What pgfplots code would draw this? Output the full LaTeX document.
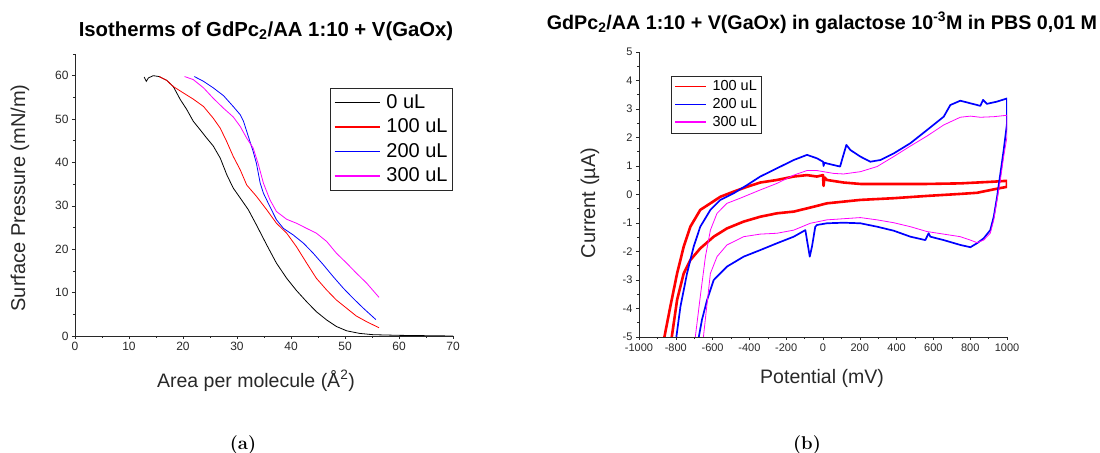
\documentclass[border=0pt]{standalone}
\usepackage{pgfplots}
\pgfplotsset{compat=1.18}
\usepackage{fontspec}
\newfontfamily\arial{Liberation Sans}
\definecolor{axgray}{RGB}{40,40,40}
\definecolor{mag}{RGB}{255,0,255}
\definecolor{myred}{RGB}{255,0,0}
\definecolor{myblue}{RGB}{0,0,255}
\pgfplotsset{
  myaxis/.style={
    scale only axis,
    axis x line*=bottom, axis y line*=left,
    axis line style={axgray, line width=0.8bp},
    tick align=outside,
    major tick length=3bp, minor tick length=2bp,
    every tick/.style={axgray, line width=0.6bp},
    clip=true,
  },
  limgA/.style={legend image code/.code={\draw[draw=#1, line width=1.2bp] (0bp,0.3bp) -- (45bp,0.3bp); \path (50bp,0bp);}},
  limgB/.style={legend image code/.code={\draw[draw=#1, line width=1.2bp] (0bp,0.3bp) -- (31bp,0.3bp); \path (35bp,0bp);}},
}
\begin{document}
\begin{tikzpicture}
\path[use as bounding box] (0bp,0bp) rectangle (1100bp,453bp);
% ---------------- (a) ----------------
\begin{axis}[myaxis,
  at={(75bp,117bp)}, anchor=south west,
  width=378bp, height=282bp,
  xmin=0, xmax=70, ymin=0, ymax=65,
  xtick={0,10,...,70}, xticklabels={0,10,20,30,40,50,60,70},
  ytick={0,10,...,60}, yticklabels={0,10,20,30,40,50,60},
  minor xtick={5,15,...,65}, minor ytick={5,15,...,65},
  ticklabel style={font=\arial\fontsize{12bp}{14bp}\selectfont, text=axgray},
  legend style={at={(1,0.879)}, anchor=north east, draw=axgray, line width=0.8bp,
    font=\arial\fontsize{20bp}{24bp}\selectfont,
    inner xsep=3.5bp, inner ysep=3bp,
    nodes={inner sep=1.5bp, text height=15bp, text depth=4.5bp}, row sep=2bp},
  legend cell align=left,
]
\addplot[black, line width=0.8bp, limgA=black] coordinates {
(12.8,59.7) (13.2,58.7) (13.6,59.5) (14.5,60.0) (15.6,59.8) (17.0,58.9) (18.2,57.5) (19.5,54.5) (20.7,52.2) (21.9,49.5) (23.2,47.5) (24.4,45.6) (25.6,43.8) (26.9,41.0) (28.1,37.2) (29.3,34.1) (30.6,31.8) (32.1,29.1) (33.6,25.6) (35.5,21.0) (37.3,16.8) (39.2,13.3) (41.0,10.5) (42.9,7.9) (44.7,5.6) (46.6,3.7) (48.4,2.2) (50.3,1.2) (52.7,0.6) (55.2,0.3) (60.1,0.15) (70,0.0)};
\addlegendentry{0 uL}
\addplot[myred, line width=0.8bp, limgA=myred] coordinates {
(15.6,59.8) (17.0,58.9) (18.2,57.5) (20.1,56.0) (21.9,54.6) (23.8,52.9) (25.6,50.2) (26.9,47.9) (28.1,44.8) (29.3,41.4) (30.6,38.3) (31.8,34.8) (33.6,32.2) (35.5,29.1) (37.3,26.0) (39.2,23.7) (41.0,20.6) (42.9,16.8) (44.7,13.3) (46.6,10.6) (48.4,8.3) (50.3,6.4) (52.1,4.6) (54.0,3.3) (56.3,1.9)};
\addlegendentry{100 uL}
\addplot[myblue, line width=0.8bp, limgA=myblue] coordinates {
(22.1,59.8) (23.8,58.7) (25.6,57.2) (27.5,55.4) (29.3,52.9) (30.6,51.0) (31.2,49.5) (32.1,46.0) (33.0,42.5) (33.6,39.8) (34.3,35.2) (34.9,32.9) (36.1,29.8) (37.3,26.8) (38.6,24.8) (40.4,23.3) (42.3,21.4) (44.1,19.1) (46.0,16.4) (47.8,13.7) (49.7,11.0) (51.5,8.7) (53.4,6.4) (55.7,3.8)};
\addlegendentry{200 uL}
\addplot[mag, line width=0.8bp, limgA=mag] coordinates {
(20.3,59.8) (21.9,59.1) (23.8,57.2) (25.6,54.8) (27.5,52.5) (29.3,50.5) (30.6,48.3) (31.8,45.6) (33.0,43.3) (33.9,39.8) (34.9,35.2) (36.1,31.4) (37.3,28.7) (39.2,26.9) (41.0,26.0) (42.9,24.8) (44.7,23.7) (46.6,21.8) (48.4,19.1) (50.3,16.8) (52.1,14.5) (54.0,12.2) (56.3,8.9)};
\addlegendentry{300 uL}
\end{axis}
% ---------------- (b) ----------------
\begin{axis}[myaxis,
  at={(639bp,116bp)}, anchor=south west,
  width=368bp, height=285bp,
  xmin=-1000, xmax=1000, ymin=-5, ymax=5,
  xtick={-1000,-800,...,1000}, xticklabels={-1000,-800,-600,-400,-200,0,200,400,600,800,1000},
  ytick={-5,-4,...,5}, yticklabels={-5,-4,-3,-2,-1,0,1,2,3,4,5},
  minor xtick={-900,-700,...,900}, minor ytick={-4.5,-3.5,...,4.5},
  ticklabel style={font=\arial\fontsize{11bp}{13bp}\selectfont, text=axgray},
  legend style={at={(0.087,0.917)}, anchor=north west, draw=axgray, line width=0.8bp,
    font=\arial\fontsize{14.5bp}{17bp}\selectfont,
    inner xsep=3bp, inner ysep=2.5bp,
    nodes={inner sep=1.2bp, text height=10.5bp, text depth=3.2bp}, row sep=1.8bp},
  legend cell align=left,
]
\addplot[myred, line width=2.6bp, line join=round, limgB=myred] coordinates {
(-862,-5) (-830,-3.94) (-793,-2.77) (-757,-1.83) (-721,-1.13) (-667,-0.54) (-612,-0.31) (-558,-0.08) (-486,0.10) (-413,0.27) (-341,0.42) (-250,0.51) (-159,0.63) (-87,0.68) (-33,0.63) (0,0.68) (3,0.3) (8,0.6) (21,0.51) (112,0.42) (203,0.37) (384,0.37) (565,0.37) (746,0.39) (928,0.45) (1000,0.48) (1000,0.27) (928,0.18) (837,0.06) (746,0.02) (565,-0.05) (384,-0.13) (203,-0.19) (21,-0.31) (-51,-0.43) (-159,-0.60) (-250,-0.66) (-341,-0.78) (-431,-0.95) (-522,-1.19) (-594,-1.48) (-667,-1.89) (-721,-2.30) (-757,-2.77) (-793,-3.70) (-822,-5)};
\addlegendentry{100 uL}
\addplot[myblue, line width=1.7bp, line join=round, limgB=myblue] coordinates {
(-797,-5) (-775,-3.94) (-739,-2.77) (-703,-1.83) (-667,-1.13) (-612,-0.54) (-558,-0.19) (-486,0.04) (-413,0.33) (-341,0.63) (-250,0.92) (-159,1.21) (-87,1.39) (-33,1.27) (0,1.15) (3,1.0) (8,1.12) (21,1.09) (93,0.98) (103,1.21) (127,1.74) (149,1.56) (203,1.33) (257,1.15) (312,1.21) (384,1.44) (475,1.80) (565,2.26) (656,2.73) (692,3.14) (746,3.29) (801,3.20) (855,3.11) (870,3.32) (891,3.18) (946,3.26) (1000,3.37) (1000,2.50) (982,1.56) (964,0.74) (946,-0.08) (928,-0.78) (909,-1.25) (873,-1.54) (837,-1.71) (801,-1.85) (746,-1.77) (656,-1.60) (583,-1.48) (574,-1.36) (556,-1.60) (475,-1.48) (384,-1.27) (294,-1.13) (203,-1.01) (112,-0.99) (21,-1.01) (-33,-1.07) (-42,-1.13) (-60,-1.83) (-72,-2.18) (-87,-1.60) (-96,-1.25) (-159,-1.48) (-250,-1.71) (-341,-1.95) (-431,-2.18) (-522,-2.53) (-594,-3.00) (-630,-3.70) (-658,-4.40) (-675,-5)};
\addlegendentry{200 uL}
\addplot[mag, line width=0.8bp, line join=round, limgB=mag] coordinates {
(-694,-5) (-667,-3.58) (-639,-2.18) (-612,-1.25) (-576,-0.66) (-522,-0.31) (-450,-0.13) (-341,0.16) (-250,0.39) (-159,0.68) (-87,0.84) (-33,0.84) (3,0.80) (58,0.74) (112,0.72) (203,0.80) (294,0.98) (384,1.33) (475,1.70) (565,2.05) (656,2.44) (746,2.71) (801,2.75) (855,2.71) (928,2.73) (1000,2.78) (1000,2.03) (982,1.33) (964,0.51) (946,-0.19) (928,-0.89) (909,-1.36) (873,-1.60) (837,-1.69) (801,-1.60) (746,-1.48) (656,-1.39) (565,-1.30) (475,-1.13) (384,-0.99) (294,-0.89) (203,-0.81) (112,-0.85) (21,-0.89) (-69,-1.01) (-159,-1.25) (-250,-1.36) (-341,-1.39) (-431,-1.48) (-522,-1.77) (-576,-2.18) (-612,-2.77) (-630,-3.82) (-650,-5)};
\addlegendentry{300 uL}
\end{axis}
% ---------------- texts ----------------
\node[font=\arial\bfseries\fontsize{20.3bp}{24bp}\selectfont, text=black] at (266bp,422bp) {Isotherms of GdPc\textsubscript{2}/AA 1:10 + V(GaOx)};
\node[font=\arial\bfseries\fontsize{19.7bp}{24bp}\selectfont, text=black] at (822bp,430bp) {GdPc\textsubscript{2}/AA 1:10 + V(GaOx) in galactose 10\textsuperscript{-3}M in PBS 0,01 M};
\node[font=\arial\fontsize{20bp}{24bp}\selectfont, text=axgray, rotate=90] at (20bp,255bp) {Surface Pressure (mN/m)};
\node[font=\arial\fontsize{20bp}{24bp}\selectfont, text=axgray, rotate=90] at (590bp,250bp) {Current (\textmu A)};
\node[font=\arial\fontsize{19.5bp}{24bp}\selectfont, text=axgray] at (256bp,72bp) {Area per molecule (Å\textsuperscript{2})};
\node[font=\arial\fontsize{19.5bp}{24bp}\selectfont, text=axgray] at (822bp,75bp) {Potential (mV)};
\node[font=\bfseries\fontsize{18.5bp}{21bp}\selectfont] at (243bp,8bp) {(a)};
\node[font=\bfseries\fontsize{18.5bp}{21bp}\selectfont] at (807bp,8bp) {(b)};
\end{tikzpicture}
\end{document}
